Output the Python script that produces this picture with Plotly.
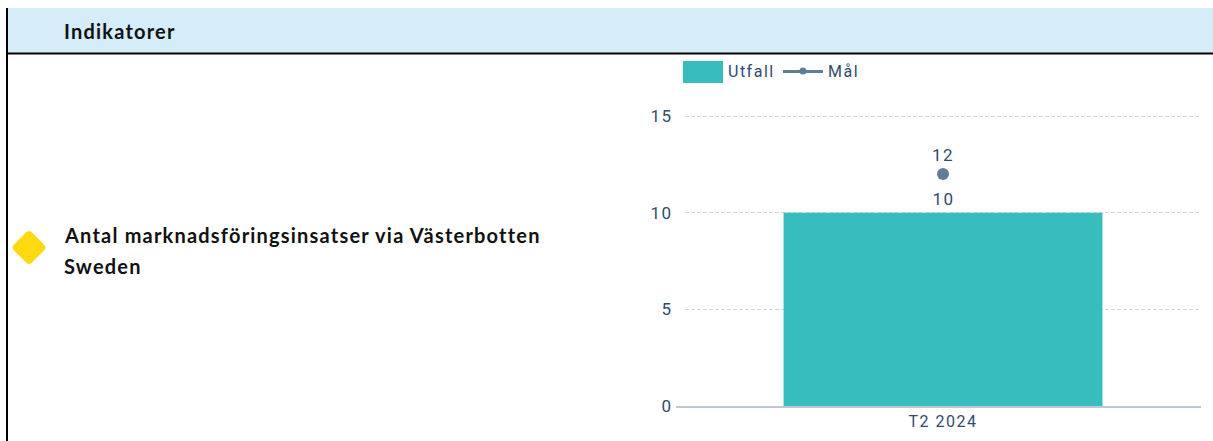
import plotly.graph_objects as go

W, H = 1213, 441
L, R, T, B = 685, 12, 107, 35

categories = ["T2 2024"]
utfall = [10]
mal = [12]
y_ticks = [0, 5, 10, 15]
y_top = 15.47

TEXT = "#2f4b6e"
TEAL = "#38bdbd"
SLATE = "#5f7c99"
ROBOTO = "Roboto, sans-serif"
LATO = "Lato, sans-serif"


def px(x):
    return (x - L) / (W - L - R)


def py(y):
    return 1 - (y - T) / (H - T - B)


fig = go.Figure()
fig.add_bar(
    x=categories, y=utfall, name="Utfall", marker=dict(color=TEAL, line_width=0),
)
fig.add_scatter(
    x=categories, y=mal, name="Mål", mode="markers+text",
    marker=dict(color=SLATE, size=12), text=mal, textposition="top center",
    cliponaxis=False, textfont=dict(family=ROBOTO, size=17, color=TEXT),
)


def rect(x0, y0, x1, y1, color):
    return dict(type="rect", xref="paper", yref="paper", x0=px(x0), x1=px(x1),
                y0=py(y0), y1=py(y1), fillcolor=color, line_width=0, layer="below")


def label(x, y, text, size, family, color, weight="normal"):
    return dict(xref="paper", yref="paper", x=px(x - 2), y=py(y), text=text, showarrow=False,
                xanchor="left", yanchor="middle", align="left",
                font=dict(family=family, size=size, color=color, weight=weight))


d = 18
c = 3
cx, cy = 29, 247.5
diamond = (
    f"M {px(cx-d+c)} {py(cy-c)} L {px(cx-c)} {py(cy-d+c)} "
    f"Q {px(cx)} {py(cy-d)} {px(cx+c)} {py(cy-d+c)} "
    f"L {px(cx+d-c)} {py(cy-c)} Q {px(cx+d)} {py(cy)} {px(cx+d-c)} {py(cy+c)} "
    f"L {px(cx+c)} {py(cy+d-c)} Q {px(cx)} {py(cy+d)} {px(cx-c)} {py(cy+d-c)} "
    f"L {px(cx-d+c)} {py(cy+c)} Q {px(cx-d)} {py(cy)} {px(cx-d+c)} {py(cy-c)} Z"
)

shapes = [
    rect(7, 8, 1213, 53, "#d4edf9"),
    rect(7, 52.5, 1213, 54.5, "#000000"),
    rect(6, 8, 8, 441, "#000000"),
    dict(type="path", xref="paper", yref="paper", path=diamond, fillcolor="#ffd90f",
         line_width=0),
    rect(683, 61, 723, 83, TEAL),
    rect(783, 70, 823, 73, SLATE),
    dict(type="circle", xref="paper", yref="paper", x0=px(799.5), x1=px(806.5),
         y0=py(74.5), y1=py(67.5), fillcolor=SLATE, line_width=0),
    dict(type="line", xref="paper", yref="paper", x0=px(676), x1=px(685),
         y0=py(407), y1=py(407), line=dict(color="#bcc8d2", width=2)),
]

annotations = [
    label(64, 31, "Indikatorer", 20, LATO, "#111111", 700),
    label(63.5, 235, "Antal marknadsföringsinsatser via Västerbotten", 20, LATO, "#111111", 700),
    label(64, 266, "Sweden", 20, LATO, "#111111", 700),
    label(728, 71, "Utfall", 16, ROBOTO, TEXT),
    label(828, 71, "Mål", 16, ROBOTO, TEXT),
    dict(x=categories[0], y=utfall[0], text=str(utfall[0]), showarrow=False,
         yanchor="bottom", yshift=2, font=dict(family=ROBOTO, size=17, color=TEXT)),
]

fig.update_layout(
    width=W, height=H, margin=dict(l=L, r=R, t=T, b=B, pad=0),
    paper_bgcolor="white", plot_bgcolor="white", showlegend=False,
    bargap=0.382, shapes=shapes, annotations=annotations,
    xaxis=dict(showgrid=False, showline=True, linecolor="#bcc8d2", linewidth=2, ticks="",
               automargin=False,
               tickfont=dict(family=ROBOTO, size=16, color=TEXT)),
    yaxis=dict(range=[0, y_top], tickvals=y_ticks, showline=False, zeroline=False,
               gridcolor="#d0d6dc", griddash="4px,2px", gridwidth=1, ticks="outside",
               ticklen=8, tickcolor="rgba(0,0,0,0)", automargin=False,
               tickfont=dict(family=ROBOTO, size=17, color=TEXT)),
)

post = """
document.body.style.margin='0';
function sp(){
  document.querySelectorAll('svg text').forEach(function(t){
    var f=t.style.fontFamily||'';
    t.style.letterSpacing = f.indexOf('Lato')>=0 ? '1.2px' : '1.5px';
  });
}
sp(); setTimeout(sp,50);
"""
fig.write_html("out.html", post_script=post, config={"displayModeBar": False})
